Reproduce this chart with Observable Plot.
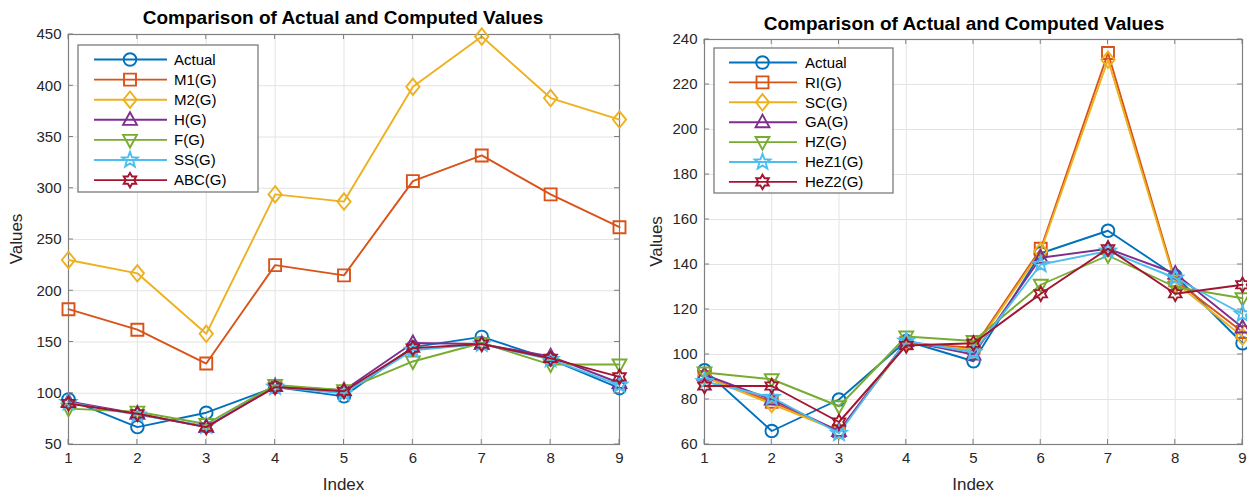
<!DOCTYPE html>
<html>
<head>
<meta charset="utf-8">
<script src="https://cdn.jsdelivr.net/npm/d3@7"></script>
<script src="https://cdn.jsdelivr.net/npm/@observablehq/plot@0.6"></script>
<style>
  html, body { margin: 0; padding: 0; background: #fff; }
  #wrap { display: flex; width: 1247px; height: 494px; overflow: hidden; }
  svg { display: block; }
</style>
</head>
<body>
<div id="wrap"></div>
<script>
// ---------------- data ----------------
const index = [1, 2, 3, 4, 5, 6, 7, 8, 9];
const colors = ["#0072BD", "#D95319", "#EDB120", "#7E2F8E", "#77AC30", "#4DBEEE", "#A2142F"];
const markers = ["circle", "square", "diamond", "triangleUp", "triangleDown", "pentagram", "hexagram"];

const leftNames = ["Actual", "M1(G)", "M2(G)", "H(G)", "F(G)", "SS(G)", "ABC(G)"];
const leftActual = [94, 67, 81, 106, 97, 145, 155, 133, 105];
const leftM1 = [182, 162, 129, 225, 215, 307, 332, 294, 262];
const leftM2 = [230, 217, 158, 294, 287, 399, 448, 388, 367];
const leftH = [92, 80, 67, 107, 103, 149, 148, 136, 110];
const leftF = [85, 82, 70, 108, 103, 131, 149, 128, 128];
const leftSS = [91, 79, 68, 106, 100, 142, 148, 133, 108];
const leftABC = [90, 80, 67, 106, 102, 144, 148, 134, 116];
const leftYTicks = [50, 100, 150, 200, 250, 300, 350, 400, 450];

const rightNames = ["Actual", "RI(G)", "SC(G)", "GA(G)", "HZ(G)", "HeZ1(G)", "HeZ2(G)"];
const rightActual = [93, 66, 80, 106, 97, 145, 155, 135, 105];
const rightRI = [90, 79, 66, 105, 103, 147, 234, 133, 110];
const rightSC = [90, 78, 66, 105, 102, 146, 231, 132, 108];
const rightGA = [91, 80, 66, 106, 100, 143, 147, 136, 112];
const rightHZ = [92, 89, 77, 108, 106, 131, 144, 130, 125];
const rightHeZ1 = [88, 81, 65, 106, 101, 140, 146, 134, 118];
const rightHeZ2 = [86, 86, 70, 104, 105, 127, 147, 127, 131];
const rightYTicks = [60, 80, 100, 120, 140, 160, 180, 200, 220, 240];

const titleText = "Comparison of Actual and Computed Values";
const xLabelText = "Index";
const yLabelText = "Values";

// ---------------- symbols ----------------
function poly(ctx, pts) {
  ctx.moveTo(pts[0][0], pts[0][1]);
  for (let i = 1; i < pts.length; i++) ctx.lineTo(pts[i][0], pts[i][1]);
  ctx.closePath();
}
const symbolDefs = {
  circle: { draw(ctx, size) { const r = Math.sqrt(size / Math.PI); ctx.moveTo(r, 0); ctx.arc(0, 0, r, 0, 2 * Math.PI); } },
  square: { draw(ctx, size) { const r = Math.sqrt(size / Math.PI) * 0.95; poly(ctx, [[-r, -r], [r, -r], [r, r], [-r, r]]); } },
  diamond: { draw(ctx, size) { const r = Math.sqrt(size / Math.PI); poly(ctx, [[0, -r * 1.3], [r * 1.05, 0], [0, r * 1.3], [-r * 1.05, 0]]); } },
  triangleUp: { draw(ctx, size) { const r = Math.sqrt(size / Math.PI); poly(ctx, [[0, -r * 1.2], [r * 1.1, r * 0.8], [-r * 1.1, r * 0.8]]); } },
  triangleDown: { draw(ctx, size) { const r = Math.sqrt(size / Math.PI); poly(ctx, [[0, r * 1.2], [r * 1.1, -r * 0.8], [-r * 1.1, -r * 0.8]]); } },
  pentagram: { draw(ctx, size) {
    const R = Math.sqrt(size / Math.PI) * 1.3, ri = R * 0.42, pts = [];
    for (let i = 0; i < 10; i++) { const a = -Math.PI / 2 + i * Math.PI / 5, rr = i % 2 ? ri : R; pts.push([rr * Math.cos(a), rr * Math.sin(a)]); }
    poly(ctx, pts);
  } },
  hexagram: { draw(ctx, size) {
    const R = Math.sqrt(size / Math.PI) * 1.15, ri = R / Math.sqrt(3), pts = [];
    for (let i = 0; i < 12; i++) { const a = -Math.PI / 2 + i * Math.PI / 6, rr = i % 2 ? ri : R; pts.push([rr * Math.cos(a), rr * Math.sin(a)]); }
    poly(ctx, pts);
  } }
};

// ---------------- panel ----------------
const FONT = "'Liberation Sans', Arial, Helvetica, sans-serif";

function panel(cfg) {
  const rows = [];
  cfg.series.forEach((vals, s) => vals.forEach((v, i) => rows.push({ x: index[i], y: v, s })));
  const marks = [
    Plot.gridX(index, { stroke: "#e3e3e3", strokeOpacity: 1, strokeWidth: 1 }),
    Plot.gridY(cfg.yTicks, { stroke: "#e3e3e3", strokeOpacity: 1, strokeWidth: 1 }),
    Plot.axisX({ ticks: index, tickSize: 0, tickPadding: 8, tickFormat: d => String(d), fontSize: 15, fill: "#262626", label: null }),
    Plot.axisY({ ticks: cfg.yTicks, tickSize: 0, tickPadding: 7, tickFormat: d => String(d), fontSize: 15, fill: "#262626", label: null }),
    Plot.frame({ stroke: "#808080", strokeWidth: 1.2 })
  ];
  cfg.series.forEach((vals, s) => {
    const d = rows.filter(r => r.s === s);
    marks.push(Plot.line(d, { x: "x", y: "y", stroke: colors[s], strokeWidth: 1.9 }));
    marks.push(Plot.dot(d, { x: "x", y: "y", stroke: colors[s], fill: "none", strokeWidth: 1.9, r: 6.3, symbol: symbolDefs[markers[s]] }));
  });
  const plot = Plot.plot({
    width: cfg.width, height: 494,
    marginLeft: cfg.ml, marginRight: cfg.mr, marginTop: cfg.mt, marginBottom: 50,
    x: { domain: [1, 9] },
    y: { domain: cfg.yDomain },
    style: { fontFamily: FONT, background: "#fff", overflow: "visible" },
    marks
  });
  const svg = d3.select(plot);
  const xs = plot.scale("x"), ys = plot.scale("y");
  const x0 = xs.range[0], x1 = xs.range[1], y0 = ys.range[0], y1 = ys.range[1];
  const g = svg.append("g").attr("stroke", "#808080").attr("stroke-width", 1);
  index.forEach(v => {
    const px = xs.apply(v);
    g.append("line").attr("x1", px).attr("x2", px).attr("y1", y0).attr("y2", y0 - 5);
    g.append("line").attr("x1", px).attr("x2", px).attr("y1", y1).attr("y2", y1 + 5);
  });
  cfg.yTicks.forEach(v => {
    const py = ys.apply(v);
    g.append("line").attr("y1", py).attr("y2", py).attr("x1", x0).attr("x2", x0 + 5);
    g.append("line").attr("y1", py).attr("y2", py).attr("x1", x1).attr("x2", x1 - 5);
  });
  // title & axis labels
  svg.append("text").attr("x", cfg.titleX).attr("y", cfg.titleY).attr("text-anchor", "middle")
    .attr("font-family", FONT).attr("font-weight", "bold").attr("font-size", 19).attr("fill", "#000").text(titleText);
  svg.append("text").attr("x", (x0 + x1) / 2).attr("y", 490).attr("text-anchor", "middle")
    .attr("font-family", FONT).attr("font-size", 17).attr("fill", "#262626").text(xLabelText);
  svg.append("text").attr("transform", `translate(${cfg.yLabelX},${(y0 + y1) / 2}) rotate(-90)`).attr("text-anchor", "middle")
    .attr("font-family", FONT).attr("font-size", 17).attr("fill", "#262626").text(yLabelText);
  // legend
  const L = cfg.legend;
  const lg = svg.append("g").attr("text-anchor", "start");
  lg.append("rect").attr("x", L.x0).attr("y", L.y0).attr("width", L.x1 - L.x0).attr("height", L.y1 - L.y0)
    .attr("fill", "#fff").attr("stroke", "#707070").attr("stroke-width", 1.2);
  cfg.names.forEach((n, i) => {
    const yy = L.row0 + i * L.step;
    lg.append("line").attr("x1", L.lx0).attr("x2", L.lx1).attr("y1", yy).attr("y2", yy).attr("stroke", colors[i]).attr("stroke-width", 1.9);
    const path = d3.path();
    symbolDefs[markers[i]].draw(path, Math.PI * 6.3 * 6.3);
    lg.append("path").attr("d", path.toString()).attr("transform", `translate(${L.mx},${yy})`)
      .attr("fill", "none").attr("stroke", colors[i]).attr("stroke-width", 1.9);
    lg.append("text").attr("x", L.tx).attr("y", yy).attr("dy", "0.35em").attr("text-anchor", "start")
      .attr("font-family", FONT).attr("font-size", 15).attr("fill", "#000").text(n);
  });
  return plot;
}

const wrap = document.getElementById("wrap");
wrap.appendChild(panel({
  width: 640, ml: 68, mr: 21, mt: 34,
  yDomain: [50, 450], yTicks: leftYTicks,
  series: [leftActual, leftM1, leftM2, leftH, leftF, leftSS, leftABC],
  names: leftNames,
  titleX: 343, titleY: 24, yLabelX: 22,
  legend: { x0: 78, x1: 258, y0: 45, y1: 192, row0: 59.5, step: 20.1, lx0: 94, lx1: 167, mx: 130, tx: 174 }
}));
wrap.appendChild(panel({
  width: 607, ml: 64, mr: 5, mt: 39,
  yDomain: [60, 240], yTicks: rightYTicks,
  series: [rightActual, rightRI, rightSC, rightGA, rightHZ, rightHeZ1, rightHeZ2],
  names: rightNames,
  titleX: 324, titleY: 30, yLabelX: 22,
  legend: { x0: 74, x1: 253, y0: 48, y1: 193, row0: 62.5, step: 19.9, lx0: 89, lx1: 157, mx: 122.5, tx: 165 }
}));
</script>
</body>
</html>
